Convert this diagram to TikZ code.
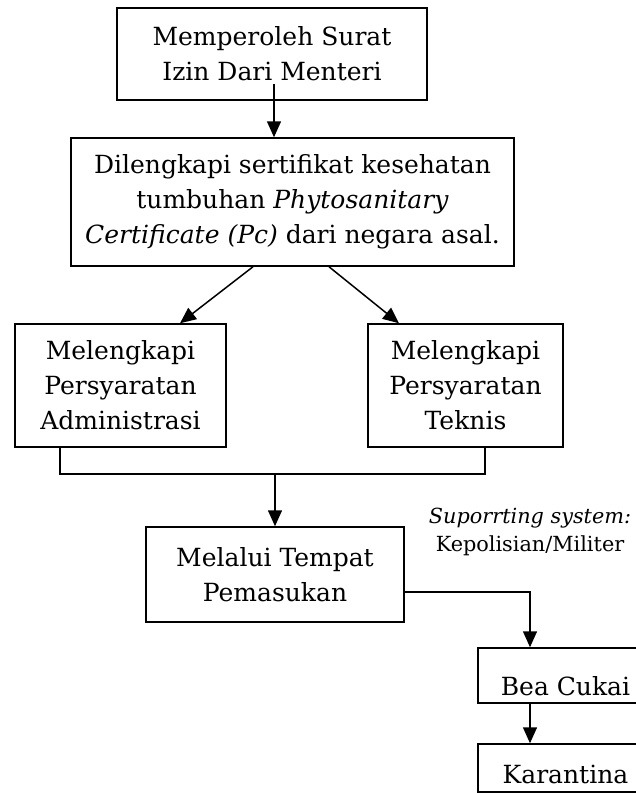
\documentclass[tikz,border=0pt]{standalone}
\usepackage{fontspec}
\setmainfont{DejaVu Serif}
\usetikzlibrary{arrows.meta,calc}

\begin{document}
\begin{tikzpicture}[x=0.5pt,y=-0.5pt,
	kotak/.style={draw,line width=0.75pt,align=center,inner sep=0pt,
		font=\fontsize{12.5}{17.5}\selectfont},
	garis/.style={line width=0.75pt},
	panah/.style={garis,-{Triangle[length=8pt,width=7pt]}}]
	\useasboundingbox (0,0) rectangle (636,793);
	% Kotak-kotak proses
	\node[kotak,minimum width=155pt,minimum height=46pt] (surat) at (272,54)
		{Memperoleh Surat\\Izin Dari Menteri};
	\node[kotak,minimum width=221.5pt,minimum height=64pt] (sertifikat) at (292.5,202)
		{Dilengkapi sertifikat kesehatan\\tumbuhan \textit{Phytosanitary}\\\textit{Certificate (Pc)} dari negara asal.};
	\node[kotak,minimum width=105.5pt,minimum height=61.5pt] (admin) at (120.5,385.5)
		{Melengkapi\\Persyaratan\\Administrasi};
	\node[kotak,minimum width=97.5pt,minimum height=61.5pt] (teknis) at (465.5,385.5)
		{Melengkapi\\Persyaratan\\Teknis};
	\node[kotak,minimum width=129pt,minimum height=47.5pt] (tempat) at (275,574.5)
		{Melalui Tempat\\Pemasukan};
	\node[kotak,minimum width=87.5pt,minimum height=27.5pt,text height=23.5pt,text depth=4pt] (bea) at (565.5,675.5)
		{Bea Cukai};
	\node[kotak,minimum width=87.5pt,minimum height=24pt,text height=19.5pt,text depth=4.5pt] (karantina) at (565.5,768)
		{Karantina};
	\node[align=center,inner sep=0pt,font=\fontsize{10.4}{14}\selectfont] (support) at (530,532)
		{\textit{Suporrting system:}\\Kepolisian/Militer};
	% Titik bantu
	\coordinate (s1) at ([shift={(2,-17)}]surat.south);
	\coordinate (gabung) at (275,474);
	% Panah
	\draw[panah] (s1) -- (s1 |- sertifikat.north);
	\draw[panah] ([shift={(-39.5,0)}]sertifikat.south) -- ([shift={(59.5,0)}]admin.north);
	\draw[panah] ([shift={(36.5,0)}]sertifikat.south) -- ([shift={(-66.5,0)}]teknis.north);
	\draw[garis] ([shift={(-60.5,0)}]admin.south) |- (gabung) -| ([shift={(19.5,0)}]teknis.south);
	\draw[panah] (gabung) -- (tempat.north);
	\draw[panah] ([shift={(0,17.5)}]tempat.east) -| ([shift={(-35.5,0)}]bea.north);
	\draw[panah] ([shift={(-35.5,0)}]bea.south) -- ([shift={(-35.5,0)}]karantina.north);
\end{tikzpicture}
\end{document}
